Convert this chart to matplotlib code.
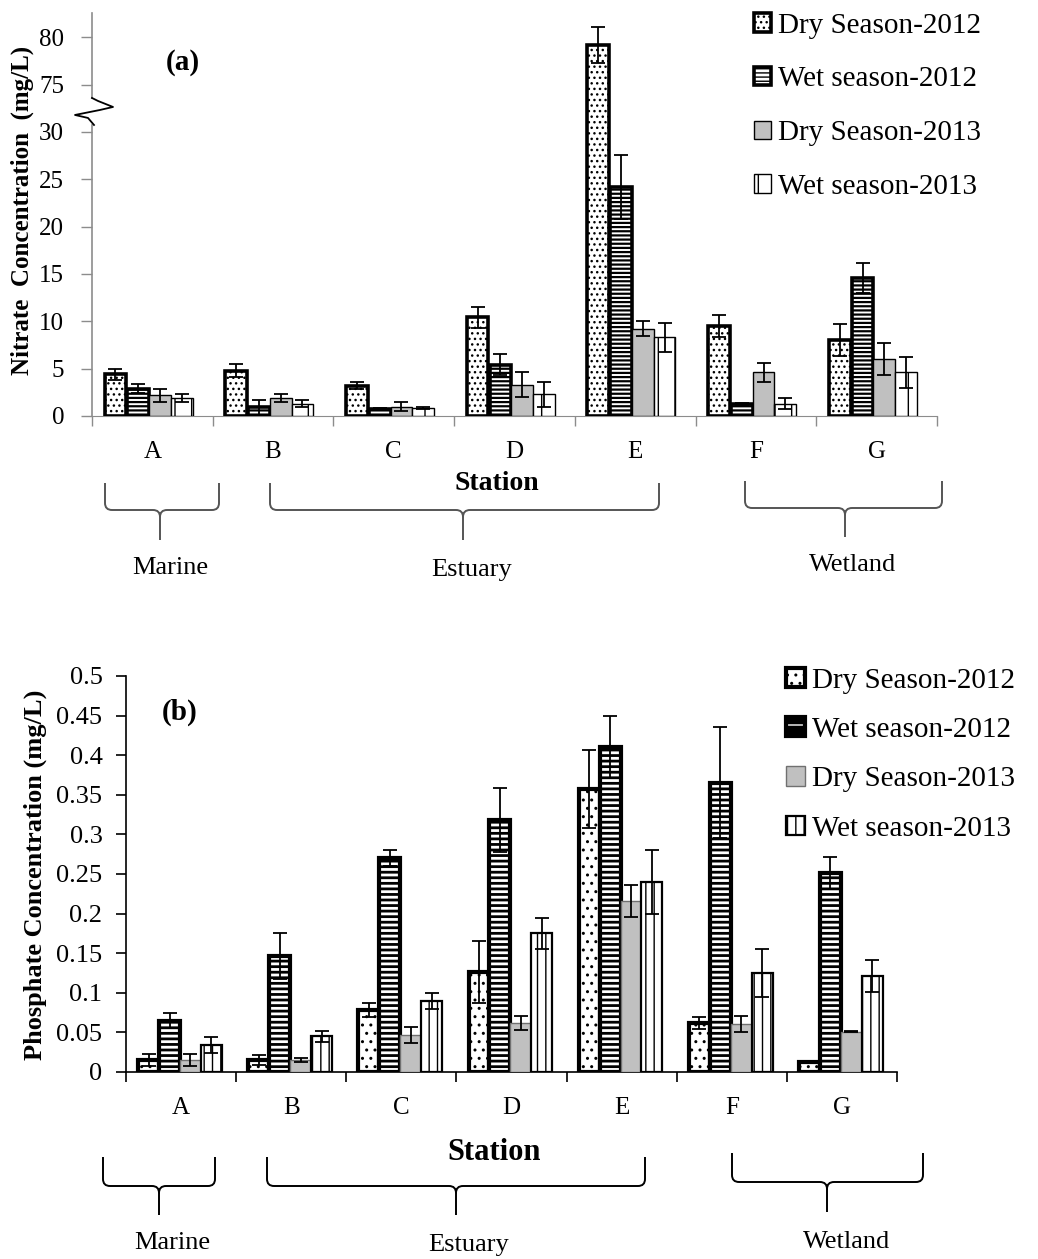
import numpy as np
import matplotlib
matplotlib.use("Agg")
import matplotlib.pyplot as plt
from matplotlib.patches import Patch
from matplotlib.path import Path
from matplotlib.patches import PathPatch
import matplotlib.transforms as mtransforms

plt.rcParams['font.family'] = ['Liberation Serif', 'DejaVu Serif']

stations = ['A', 'B', 'C', 'D', 'E', 'F', 'G']
series = ['Dry Season-2012', 'Wet season-2012', 'Dry Season-2013', 'Wet season-2013']

# nitrate (mg/L), panel (a)
no3_dry12 = [4.4, 4.8, 3.2, 10.4, 79.2, 9.5, 8.0]
no3_dry12_err = [0.6, 0.7, 0.4, 1.1, 1.9, 1.2, 1.7]
no3_wet12 = [2.9, 0.9, 0.7, 5.4, 24.2, 1.3, 14.6]
no3_wet12_err = [0.5, 0.8, 0.1, 1.1, 3.4, 0.1, 1.6]
no3_dry13 = [2.2, 1.9, 1.0, 3.3, 9.2, 4.6, 6.0]
no3_dry13_err = [0.7, 0.4, 0.5, 1.3, 0.8, 1.0, 1.7]
no3_wet13 = [1.9, 1.3, 0.8, 2.3, 8.3, 1.3, 4.6]
no3_wet13_err = [0.4, 0.4, 0.1, 1.3, 1.5, 0.6, 1.6]

# phosphate (mg/L), panel (b)
po4_dry12 = [0.015, 0.015, 0.078, 0.126, 0.357, 0.062, 0.012]
po4_dry12_err = [0.008, 0.006, 0.009, 0.039, 0.049, 0.008, 0.001]
po4_wet12 = [0.065, 0.146, 0.270, 0.318, 0.410, 0.365, 0.251]
po4_wet12_err = [0.010, 0.029, 0.010, 0.040, 0.039, 0.070, 0.020]
po4_dry13 = [0.015, 0.015, 0.047, 0.062, 0.216, 0.061, 0.051]
po4_dry13_err = [0.008, 0.003, 0.010, 0.009, 0.020, 0.010, 0.001]
po4_wet13 = [0.034, 0.045, 0.090, 0.175, 0.240, 0.125, 0.121]
po4_wet13_err = [0.010, 0.007, 0.010, 0.020, 0.040, 0.030, 0.020]

# broken axis: everything above 30 is drawn shifted down (75 sits where 35 would)
BREAK_SHIFT = 40.0


def squash(v):
    v = np.asarray(v, dtype=float)
    return np.where(v > 30, v - BREAK_SHIFT, v)


W, H = 1038, 1259
fig = plt.figure(figsize=(W / 100, H / 100), dpi=100)


def fx(px):
    return px / W


def fy(py):
    return 1 - py / H


def brace(x0, x1, xm, ytop, ymid, ybot, color, lw=1.4, r=7):
    # curly bracket in pixel coords of the figure
    pts = [(x0, ytop), (x0, ymid - r), (x0, ymid), (x0 + r, ymid),
           (xm - r, ymid), (xm, ymid), (xm, ymid + r), (xm, ybot),
           (xm, ymid + r), (xm, ymid), (xm + r, ymid),
           (x1 - r, ymid), (x1, ymid), (x1, ymid - r), (x1, ytop)]
    codes = [Path.MOVETO, Path.LINETO, Path.CURVE3, Path.CURVE3,
             Path.LINETO, Path.CURVE3, Path.CURVE3, Path.LINETO,
             Path.MOVETO, Path.CURVE3, Path.CURVE3,
             Path.LINETO, Path.CURVE3, Path.CURVE3, Path.LINETO]
    verts = [(fx(a), fy(b)) for a, b in pts]
    fig.add_artist(PathPatch(Path(verts, codes), transform=fig.transFigure,
                             fill=False, edgecolor=color, lw=lw))


x = np.arange(len(stations))
err_kw = dict(fmt='none', ecolor='black', elinewidth=1.3, capsize=5, capthick=1.3, zorder=5)

# ---------------- panel (a) ----------------
axa = fig.add_axes([fx(92), fy(416), fx(937) - fx(92), fy(13) - fy(416)])
wa = 0.18
offs = np.array([-1.7, -0.65, 0.35, 1.35]) * wa

plt.rcParams['hatch.linewidth'] = 1.0
axa.bar(x + offs[0], squash(no3_dry12), wa, facecolor='white', edgecolor='black',
        hatch='...', linewidth=2.6, zorder=3)
plt.rcParams['hatch.linewidth'] = 1.6
axa.bar(x + offs[1], squash(no3_wet12), wa, facecolor='white', edgecolor='black',
        hatch='----', linewidth=2.6, zorder=3)
plt.rcParams['hatch.linewidth'] = 1.0
axa.bar(x + offs[2], squash(no3_dry13), wa, facecolor='#c0c0c0', edgecolor='black',
        linewidth=1.0, zorder=3)
axa.bar(x + offs[3], squash(no3_wet13), wa, facecolor='white', edgecolor='black',
        hatch='|', linewidth=1.0, zorder=3)

for off, vals, errs in zip(offs, [no3_dry12, no3_wet12, no3_dry13, no3_wet13],
                           [no3_dry12_err, no3_wet12_err, no3_dry13_err, no3_wet13_err]):
    axa.errorbar(x + off, squash(vals), yerr=errs, **err_kw)

axa.set_xlim(-0.5, 6.5)
axa.set_ylim(0, 42.55)
yt = [0, 5, 10, 15, 20, 25, 30, 75, 80]
axa.set_yticks(squash(yt))
axa.set_yticklabels([str(v) for v in yt])
axa.set_xticks(np.arange(-0.5, 7, 1))
axa.set_xticklabels([])
axa.set_xticks(x, minor=True)
axa.set_xticklabels(stations, minor=True)
axa.tick_params(axis='x', which='major', length=7, color='#8c8c8c', width=1)
axa.tick_params(axis='x', which='minor', length=0, pad=18, labelsize=18)
axa.tick_params(axis='y', length=8, color='#8c8c8c', width=1, pad=12, labelsize=18)
for s in ['top', 'right', 'left']:
    axa.spines[s].set_visible(False)
axa.spines['bottom'].set_color('#8c8c8c')

# left spine drawn in two pieces with the zigzag break between
ytrans = mtransforms.blended_transform_factory(axa.transAxes, axa.transData)
axa.plot([0, 0], [0, (416 - 125) / 9.47], color='#8c8c8c', lw=1.2, transform=ytrans, clip_on=False)
axa.plot([0, 0], [(416 - 98) / 9.47, 42.55], color='#8c8c8c', lw=1.2, transform=ytrans, clip_on=False)
zig_px = [(0, 98), (6, 101), (21, 107), (8, 110), (-17, 115), (-4, 118), (2, 125)]
axa.plot([p[0] / 845 for p in zig_px], [(416 - p[1]) / 9.47 for p in zig_px],
         color='black', lw=1.3, transform=ytrans, clip_on=False)

fig.text(fx(183), fy(62), '(a)', fontsize=21, fontweight='bold', ha='center', va='center')
fig.text(fx(22), fy(210), 'Nitrate  Concentration  (mg/L)', rotation=90, fontsize=18,
         fontweight='bold', ha='center', va='center')
fig.text(fx(497), fy(483), 'Station', fontsize=20, fontweight='bold', ha='center', va='center')

handles_a = [Patch(facecolor='white', edgecolor='black', hatch='...', linewidth=2.6),
             Patch(facecolor='white', edgecolor='black', hatch='----', linewidth=2.6),
             Patch(facecolor='#c0c0c0', edgecolor='black', linewidth=1.0),
             Patch(facecolor='white', edgecolor='black', hatch='|', linewidth=1.0)]
fig.legend(handles_a, series, loc='upper left', bbox_to_anchor=(fx(742), fy(1)),
           frameon=False, fontsize=21, handlelength=0.6, handleheight=0.6,
           handletextpad=0.25, labelspacing=0.95, borderaxespad=0)

brace(105, 219, 160, 483, 510, 540, '#555555')
brace(270, 659, 463, 483, 510, 540, '#555555')
brace(745, 942, 845, 481, 508, 537, '#555555')
fig.text(fx(170), fy(568), 'Marine', fontsize=19, ha='center', va='center')
fig.text(fx(472), fy(570), 'Estuary', fontsize=19, ha='center', va='center')
fig.text(fx(853), fy(565), 'Wetland', fontsize=19, ha='center', va='center')

# ---------------- panel (b) ----------------
axb = fig.add_axes([fx(126), fy(1072), fx(897) - fx(126), fy(676) - fy(1072)])
wb = 0.19
offb = np.array([-1.5, -0.5, 0.5, 1.5]) * wb - 0.01

plt.rcParams['hatch.linewidth'] = 1.0
axb.bar(x + offb[0], po4_dry12, wb, facecolor='white', edgecolor='black',
        hatch='..', linewidth=3, zorder=3)
plt.rcParams['hatch.linewidth'] = 2.0
axb.bar(x + offb[1], po4_wet12, wb, facecolor='black', edgecolor='white',
        hatch='---', linewidth=0, zorder=3)
axb.bar(x + offb[1], po4_wet12, wb, fill=False, edgecolor='black', linewidth=3, zorder=3)
plt.rcParams['hatch.linewidth'] = 1.0
axb.bar(x + offb[2], po4_dry13, wb, facecolor='#c0c0c0', edgecolor='#707070',
        linewidth=1.0, zorder=3)
axb.bar(x + offb[3], po4_wet13, wb, facecolor='white', edgecolor='black',
        hatch='||', linewidth=1.6, zorder=3)

for off, vals, errs in zip(offb, [po4_dry12, po4_wet12, po4_dry13, po4_wet13],
                           [po4_dry12_err, po4_wet12_err, po4_dry13_err, po4_wet13_err]):
    axb.errorbar(x + off, vals, yerr=errs, **err_kw)

axb.set_xlim(-0.5, 6.5)
axb.set_ylim(0, 0.5)
axb.set_yticks(np.arange(0, 0.501, 0.05))
axb.set_yticklabels(['0', '0.05', '0.1', '0.15', '0.2', '0.25', '0.3', '0.35', '0.4', '0.45', '0.5'])
axb.set_xticks(np.arange(-0.5, 7, 1))
axb.set_xticklabels([])
axb.set_xticks(x, minor=True)
axb.set_xticklabels(stations, minor=True)
axb.tick_params(axis='x', which='major', length=7, width=1.2)
axb.tick_params(axis='x', which='minor', length=0, pad=18, labelsize=18)
axb.tick_params(axis='y', length=7, width=1.2, pad=10, labelsize=19)
for s in ['top', 'right']:
    axb.spines[s].set_visible(False)
axb.spines['left'].set_linewidth(1.2)
axb.spines['bottom'].set_linewidth(1.2)

fig.text(fx(180), fy(712), '(b)', fontsize=21, fontweight='bold', ha='center', va='center')
fig.text(fx(35), fy(875), 'Phosphate Concentration (mg/L)', rotation=90, fontsize=19,
         fontweight='bold', ha='center', va='center')
fig.text(fx(494), fy(1153), 'Station', fontsize=22, fontweight='bold', ha='center', va='center')

handles_b = [Patch(facecolor='white', edgecolor='black', hatch='..', linewidth=3),
             (Patch(facecolor='black', edgecolor='white', hatch='-', linewidth=0),
              Patch(fill=False, edgecolor='black', linewidth=3)),
             Patch(facecolor='#c0c0c0', edgecolor='#707070', linewidth=1.0),
             Patch(facecolor='white', edgecolor='black', hatch='||', linewidth=1.6)]
fig.legend(handles_b, series, loc='upper left', bbox_to_anchor=(fx(774), fy(656)),
           frameon=False, fontsize=21, handlelength=0.65, handleheight=0.65,
           handletextpad=0.25, labelspacing=0.8, borderaxespad=0)

brace(103, 215, 159, 1157, 1186, 1215, 'black')
brace(267, 645, 456, 1157, 1186, 1215, 'black')
brace(732, 923, 827, 1153, 1182, 1212, 'black')
fig.text(fx(172), fy(1243), 'Marine', fontsize=19, ha='center', va='center')
fig.text(fx(469), fy(1245), 'Estuary', fontsize=19, ha='center', va='center')
fig.text(fx(847), fy(1242), 'Wetland', fontsize=19, ha='center', va='center')

fig.savefig('out.png', dpi=100)
